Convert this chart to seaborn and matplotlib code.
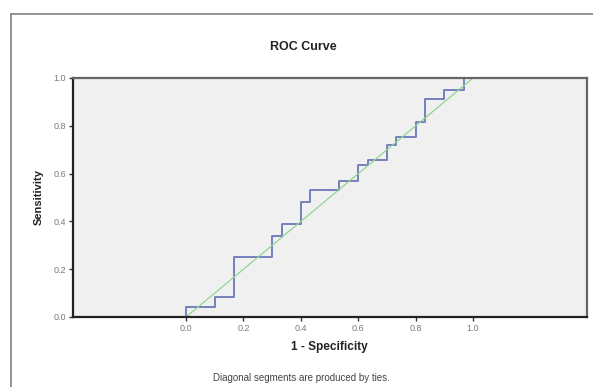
import numpy as np
import pandas as pd
import matplotlib
matplotlib.use("Agg")
import matplotlib.pyplot as plt
from matplotlib.lines import Line2D
import seaborn as sns

# ROC staircase vertices (1 - specificity, sensitivity)
fpr = [0.0, 0.0, 0.10, 0.10, 0.167, 0.167, 0.30, 0.30, 0.333, 0.333, 0.40, 0.40,
       0.433, 0.433, 0.533, 0.533, 0.60, 0.60, 0.633, 0.633, 0.70, 0.70, 0.733,
       0.733, 0.80, 0.80, 0.833, 0.833, 0.90, 0.90, 0.967, 0.967, 1.0]
tpr = [0.0, 0.04, 0.04, 0.085, 0.085, 0.25, 0.25, 0.34, 0.34, 0.39, 0.39, 0.48,
       0.48, 0.53, 0.53, 0.57, 0.57, 0.635, 0.635, 0.655, 0.655, 0.72, 0.72,
       0.755, 0.755, 0.815, 0.815, 0.91, 0.91, 0.95, 0.95, 1.0, 1.0]
ref_line = [0.0, 1.0]

x_ticks = [0.0, 0.2, 0.4, 0.6, 0.8, 1.0]
y_ticks = [0.0, 0.2, 0.4, 0.6, 0.8, 1.0]

sns.set_style("white")
plt.rcParams['font.family'] = ['Liberation Sans', 'DejaVu Sans']

fig = plt.figure(figsize=(5.93, 3.87), dpi=100)
ax = fig.add_axes([0.1231, 0.1809, 0.8668, 0.6176])
ax.set_facecolor("#f0f0f0")

roc = pd.DataFrame({"fpr": fpr, "tpr": tpr})
sns.lineplot(data=roc, x="fpr", y="tpr", sort=False, estimator=None,
             color="#7580bd", linewidth=1.4, ax=ax)
sns.lineplot(x=ref_line, y=ref_line, color="#8fd68f", linewidth=0.9, ax=ax)

ax.set_xlim(-0.394, 1.397)
ax.set_ylim(0, 1)
ax.set_xticks(x_ticks)
ax.set_yticks(y_ticks)
ax.set_xticklabels([f"{v:.1f}" for v in x_ticks])
ax.set_yticklabels([f"{v:.1f}" for v in y_ticks])
ax.tick_params(axis="both", direction="out", length=3, width=1, colors="#333333",
               labelsize=6.5, labelcolor="#7a7a7a", pad=2)
ax.tick_params(left=True, bottom=True)

for side in ["left", "bottom"]:
    ax.spines[side].set_color("#222222")
    ax.spines[side].set_linewidth(1.6)
for side in ["top", "right"]:
    ax.spines[side].set_visible(True)
    ax.spines[side].set_color("#666666")
    ax.spines[side].set_linewidth(1.6)

ax.set_xlabel("")
ax.set_ylabel("")

# SPSS-style outer frame
fig.add_artist(Line2D([0.0185, 0.0185], [0.0, 0.9638], transform=fig.transFigure,
                      color="#8a8a8a", linewidth=1.3))
fig.add_artist(Line2D([0.0185, 1.0], [0.9638, 0.9638], transform=fig.transFigure,
                      color="#8a8a8a", linewidth=1.3))

fig.text(0.511, 0.879, "ROC Curve", ha="center", va="center",
         fontsize=9, fontweight="bold", color="#222222")
fig.text(0.556, 0.103, "1 - Specificity", ha="center", va="center",
         fontsize=8.5, fontweight="bold", color="#222222")
fig.text(0.066, 0.491, "Sensitivity", ha="center", va="center", rotation=90,
         fontsize=8, fontweight="bold", color="#222222")
fig.text(0.509, 0.024, "Diagonal segments are produced by ties.", ha="center",
         va="center", fontsize=7, color="#444444")

fig.savefig("out.png", dpi=100)
